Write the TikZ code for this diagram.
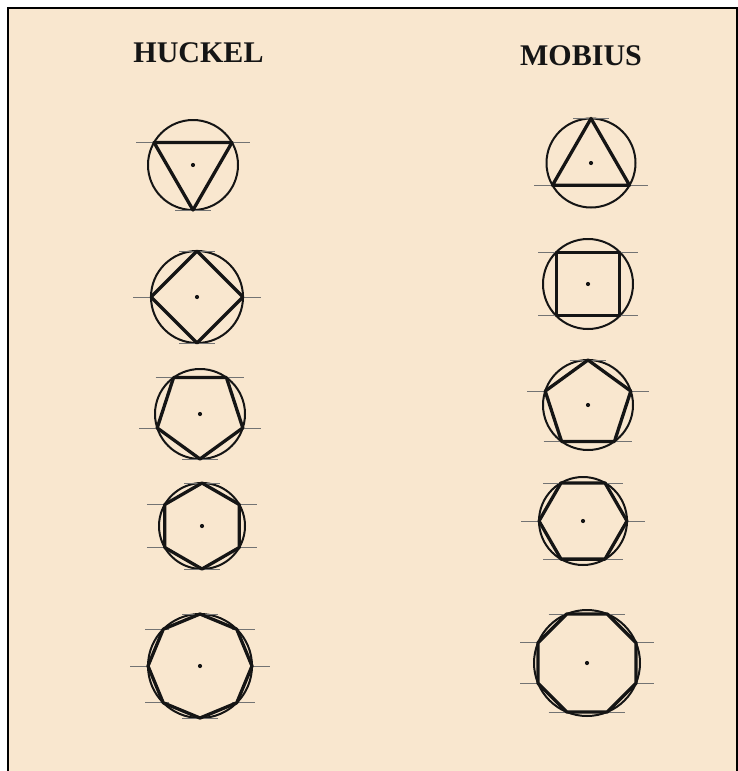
\documentclass[tikz,border=0pt]{standalone}
\usepackage{fontspec}
\setmainfont{Liberation Serif}
\definecolor{paperCream}{HTML}{F9E7CF}
\definecolor{paperInk}{HTML}{151515}
\usetikzlibrary{calc}

\begin{document}
\begin{tikzpicture}[
    x=1pt, y=1pt,
    ring/.style={circle, draw=paperInk, line width=2pt, inner sep=0pt},
    bond/.style={draw=paperInk, line width=3.3pt, line join=round, line cap=round},
    level/.style={draw=paperInk!60, line width=0.7pt},
    title/.style={font=\fontsize{30}{36}\selectfont\bfseries, text=paperInk, anchor=base, inner sep=0pt},
  ]
    \useasboundingbox (0,0) rectangle (738,-771);
    \fill[white] (0,0) rectangle (738,-771);
    \fill[paperCream] (8,-8) rectangle (737,-771);
    \draw[line width=2pt] (8,-771) -- (8,-8) -- (737,-8) -- (737,-771);

    % Titles
    \node[title] (huckel) at (198.5,-62) {HUCKEL};
    \node[title] (mobius) at (581,-65) {MOBIUS};

    % Frost circles: name / centre x / centre y / radius / ring size / first vertex
    \foreach \nm/\cx/\cy/\rad/\sz/\ang in {
        h3/193/-165/45/3/270, h4/197/-297/46/4/270, h5/200/-414/45/5/270,
        h6/202/-526/43/6/270, h8/200/-666/52/8/270,
        m3/591/-163/44.5/3/90, m4/588/-284/45/4/45, m5/588/-405/45/5/90,
        m6/583/-521/44/6/0, m8/587/-663/53/8/22.5}{
      \node[ring, minimum size=2*\rad] (\nm) at (\cx,\cy) {};
      \foreach \k in {1,...,\sz}{
        \coordinate (\nm-\k) at ($(\nm.center)+({\ang+(\k-1)*360/\sz}:\rad)$);
        % energy level
        \pgfmathsetmacro\cs{cos(\ang+(\k-1)*360/\sz)}
        \pgfmathsetmacro\lft{18*min(1,1-\cs)}
        \pgfmathsetmacro\rgt{18*min(1,1+\cs)}
        \draw[level] ([xshift=-\lft pt]\nm-\k) -- ([xshift=\rgt pt]\nm-\k);
      }
      \draw[bond] (\nm-1) \foreach \k in {2,...,\sz}{ -- (\nm-\k)} -- cycle;
      \fill[paperInk] (\nm.center) circle (2.1);
    }
\end{tikzpicture}
\end{document}
